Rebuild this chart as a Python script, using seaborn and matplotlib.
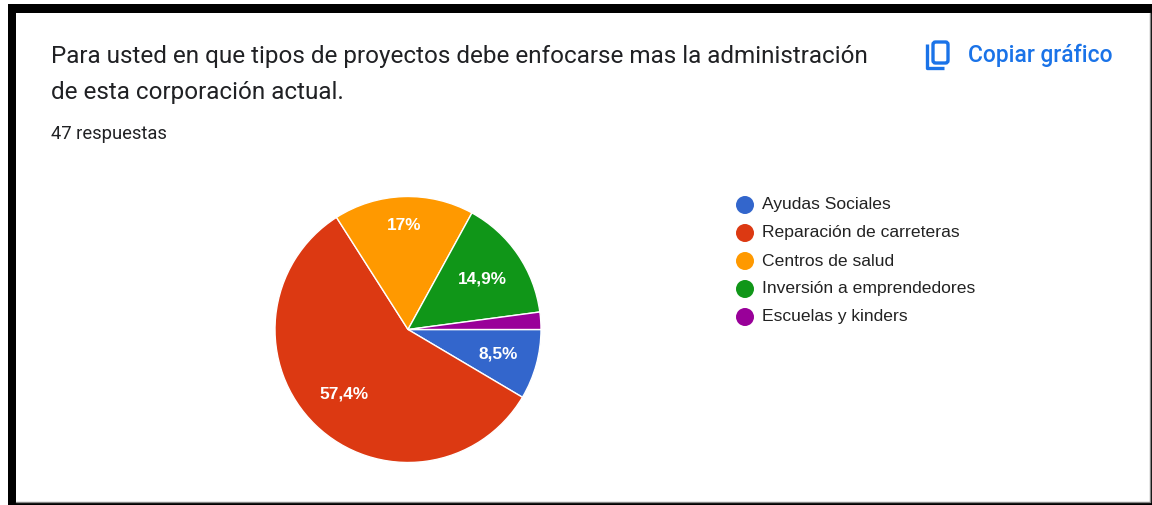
import matplotlib
matplotlib.use("Agg")
import matplotlib.pyplot as plt
import seaborn as sns
from matplotlib.patches import Rectangle, Circle, FancyBboxPatch

sns.set_theme(style="white")
plt.rcParams['font.family'] = ['Roboto', 'DejaVu Sans']

categories = ["Ayudas Sociales", "Reparación de carreteras", "Centros de salud",
              "Inversión a emprendedores", "Escuelas y kinders"]
values = [8.5, 57.4, 17.0, 14.9, 2.1]
labels = ["8,5%", "57,4%", "17%", "14,9%", ""]
label_xy = [(498, 354), (344, 394), (404, 225), (482, 279), None]
colors = ["#3366cc", "#dc3912", "#ff9900", "#109618", "#990099"]
title_lines = ["Para usted en que tipos de proyectos debe enfocarse mas la administración",
               "de esta corporación actual."]
subtitle = "47 respuestas"
action = "Copiar gráfico"

W, H = 1152, 505
fig = plt.figure(figsize=(W/100, H/100), dpi=100, facecolor="white")
bg = fig.add_axes([0, 0, 1, 1])
bg.set_xlim(0, W); bg.set_ylim(H, 0); bg.axis("off")

# black frame (white gutter at the far left and top)
for r in [(7.5, 4, W-7.5, 8.5), (7.5, 503, W-7.5, 2), (7.5, 4, 8, H-4), (1150, 4, 2, H-4)]:
    bg.add_patch(Rectangle((r[0], r[1]), r[2], r[3], color="black", lw=0))
bg.plot([15.5, 1149.5, 1149.5], [502.3, 502.3, 12.5], color="#888888", lw=1)

bg.text(51, 56, title_lines[0], fontsize=17.5, color="#202124", va="center")
bg.text(51, 92, title_lines[1], fontsize=17.5, color="#202124", va="center")
bg.text(51, 134, subtitle, fontsize=13.2, color="#202124", va="center")
bg.text(968, 55, action, fontsize=16.4, color="#1a73e8", va="center", fontweight="medium")

# copy icon
bg.add_patch(FancyBboxPatch((933, 42), 15, 21, boxstyle="round,pad=0,rounding_size=2.5",
                            fill=False, ec="#1a73e8", lw=2.4))
bg.plot([926.5, 926.5, 944], [44, 68, 68], color="#1a73e8", lw=2.4,
        solid_capstyle="butt", solid_joinstyle="round")

# pie
cx, cy, rad = 408, 329.5, 133
ax = fig.add_axes([(cx-rad)/W, 1-(cy+rad)/H, 2*rad/W, 2*rad/H])
ax.pie(values, colors=colors, startangle=0, counterclock=False,
       wedgeprops=dict(edgecolor="white", linewidth=1.0), radius=1)
ax.set_xlim(-1, 1); ax.set_ylim(-1, 1)

for xy, lab in zip(label_xy, labels):
    if lab:
        bg.text(xy[0], xy[1], lab, color="white", fontsize=12.4, fontweight="bold",
                family="Liberation Sans", ha="center", va="center", zorder=5)
bg.set_zorder(2); bg.patch.set_alpha(0)

# legend
ys = [205, 233, 261, 289, 317]
for y, c, n in zip(ys, colors, categories):
    bg.add_patch(Circle((745, y), 9, color=c, lw=0))
    bg.text(762, y, n, fontsize=12.6, color="#222222", va="center", family="Liberation Sans")

fig.savefig("out.png", dpi=100, facecolor="white")
